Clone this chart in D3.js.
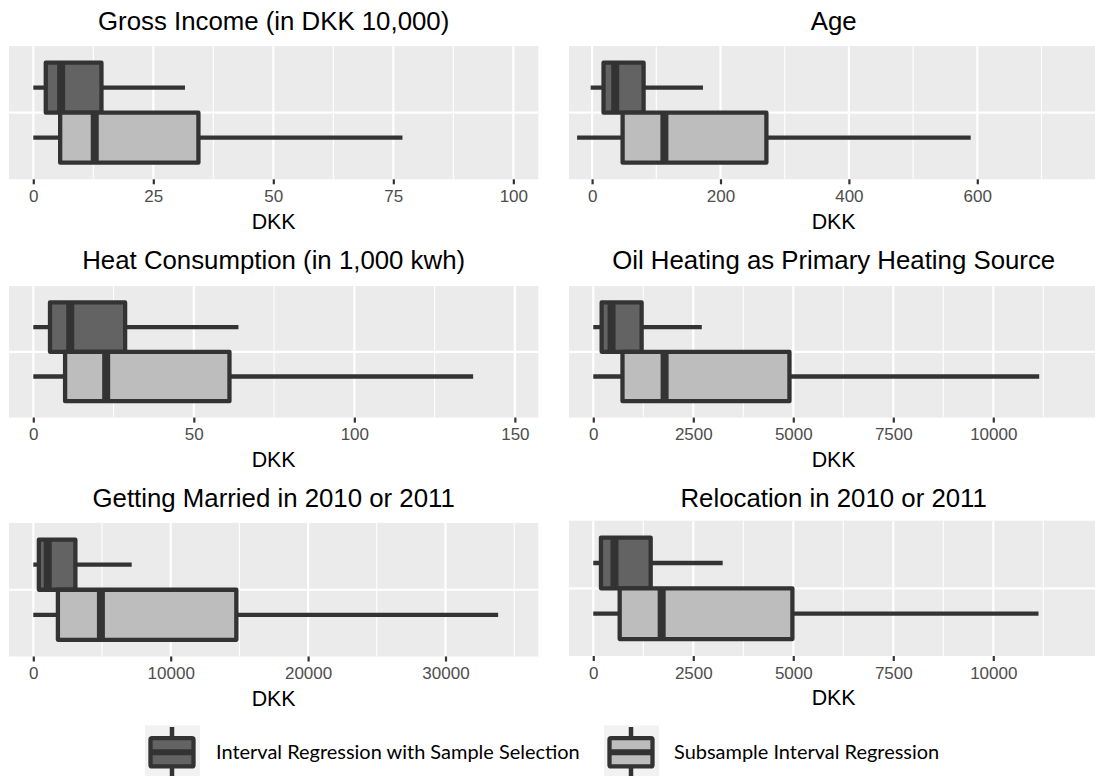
<!DOCTYPE html>
<html>
<head>
<meta charset="utf-8">
<script src="https://cdn.jsdelivr.net/npm/d3@7"></script>
<style>
  html, body { margin: 0; padding: 0; background: #ffffff; }
  svg { display: block; }
</style>
</head>
<body>
<svg id="chart" width="1095" height="776"></svg>
<script>
// ---------------- data ----------------
const panelTitles = [
  "Gross Income (in DKK 10,000)",
  "Age",
  "Heat Consumption (in 1,000 kwh)",
  "Oil Heating as Primary Heating Source",
  "Getting Married in 2010 or 2011",
  "Relocation in 2010 or 2011"
];
const axisTitle = "DKK";
const groups = ["Interval Regression with Sample Selection", "Subsample Interval Regression"];

// x axis tick labels per panel
const xTicks = [
  [0, 25, 50, 75, 100],
  [0, 200, 400, 600],
  [0, 50, 100, 150],
  [0, 2500, 5000, 7500, 10000],
  [0, 10000, 20000, 30000],
  [0, 2500, 5000, 7500, 10000]
];
// x axis limits per panel
const xLimits = [
  [-5.06, 105.2],
  [-36, 788.5],
  [-7.57, 157.3],
  [-607, 12625],
  [-1769, 36754],
  [-607, 12625]
];
// five-number summaries: [lower whisker, Q1, median, Q3, upper whisker]
const selectionStats = [
  [0, 2.6, 5.8, 14.2, 31.6],
  [-2.2, 17.8, 36, 80.2, 172.7],
  [0, 5.2, 11.5, 28.6, 63.9],
  [0, 209, 457, 1209, 2713],
  [0, 405, 1050, 3062, 7161],
  [0, 192, 530, 1435, 3235]
];
const subsampleStats = [
  [0, 5.6, 12.8, 34.4, 76.9],
  [-23.4, 47.5, 112.6, 271.5, 589.7],
  [0, 9.9, 22.7, 61.1, 137],
  [0, 730, 1783, 4904, 11148],
  [0, 1790, 4920, 14776, 33831],
  [0, 660, 1710, 4978, 11130]
];

// ---------------- styling / layout ----------------
const fills = ["#636363", "#bdbdbd"];
const outline = "#333333";
const panelBg = "#ebebeb";
const panelW = 529.3;
const panels = [
  { x0: 9,   y0: 46,    y1: 179.3, tb: 30 },
  { x0: 569, y0: 46,    y1: 179.3, tb: 30 },
  { x0: 9,   y0: 286,   y1: 417.6, tb: 269 },
  { x0: 569, y0: 286,   y1: 417.6, tb: 269 },
  { x0: 9,   y0: 523,   y1: 656.5, tb: 507 },
  { x0: 569, y0: 520.7, y1: 656,   tb: 507 }
];

const svg = d3.select("#chart");
const defs = svg.append("defs");

panels.forEach((p, i) => {
  const g = svg.append("g");
  const clipId = "clip" + i;
  defs.append("clipPath").attr("id", clipId)
    .append("rect").attr("x", p.x0).attr("y", p.y0)
    .attr("width", Math.min(panelW, 1095 - p.x0)).attr("height", p.y1 - p.y0);

  const x = d3.scaleLinear().domain(xLimits[i]).range([p.x0, p.x0 + panelW]);
  const y = d3.scaleLinear().domain([0.4, 1.6]).range([p.y0, p.y1]);

  // panel background
  g.append("rect").attr("x", p.x0).attr("y", p.y0)
    .attr("width", panelW).attr("height", p.y1 - p.y0).attr("fill", panelBg);

  // grid
  const major = xTicks[i];
  const step = major[1] - major[0];
  const minor = [];
  for (let k = 0; k < major.length - 1; k++) minor.push((major[k] + major[k + 1]) / 2);
  const lo = major[0] - step / 2, hi = major[major.length - 1] + step / 2;
  if (lo > xLimits[i][0]) minor.unshift(lo);
  if (hi < xLimits[i][1]) minor.push(hi);

  const grid = g.append("g").attr("clip-path", `url(#${clipId})`);
  grid.selectAll(".minor").data(minor).enter().append("line")
    .attr("x1", d => x(d)).attr("x2", d => x(d))
    .attr("y1", p.y0).attr("y2", p.y1)
    .attr("stroke", "#ffffff").attr("stroke-width", 1.1);
  grid.selectAll(".major").data(major).enter().append("line")
    .attr("x1", d => x(d)).attr("x2", d => x(d))
    .attr("y1", p.y0).attr("y2", p.y1)
    .attr("stroke", "#ffffff").attr("stroke-width", 2.2);
  grid.append("line")
    .attr("x1", p.x0).attr("x2", p.x0 + panelW)
    .attr("y1", y(1)).attr("y2", y(1))
    .attr("stroke", "#ffffff").attr("stroke-width", 2.2);

  // boxes
  const boxes = g.append("g").attr("clip-path", `url(#${clipId})`);
  const stats = [selectionStats[i], subsampleStats[i]];
  const centers = [0.775, 1.225];
  const half = 0.225;
  stats.forEach((s, k) => {
    const cy = y(centers[k]);
    const top = y(centers[k] - half), bot = y(centers[k] + half);
    const bg = boxes.append("g");
    bg.append("line").attr("x1", x(s[0])).attr("x2", x(s[1]))
      .attr("y1", cy).attr("y2", cy).attr("stroke", outline).attr("stroke-width", 4.3);
    bg.append("line").attr("x1", x(s[3])).attr("x2", x(s[4]))
      .attr("y1", cy).attr("y2", cy).attr("stroke", outline).attr("stroke-width", 4.3);
    bg.append("rect").attr("x", x(s[1])).attr("y", top)
      .attr("width", x(s[3]) - x(s[1])).attr("height", bot - top)
      .attr("fill", fills[k]).attr("stroke", outline).attr("stroke-width", 4.3)
      .attr("stroke-linejoin", "round");
    bg.append("line").attr("x1", x(s[2])).attr("x2", x(s[2]))
      .attr("y1", top).attr("y2", bot).attr("stroke", outline).attr("stroke-width", 8);
  });

  // axis
  const axis = d3.axisBottom(x).tickValues(major).tickSize(5).tickPadding(5.8)
    .tickFormat(d3.format("d"));
  const ag = g.append("g").attr("transform", `translate(0,${p.y1})`).call(axis);
  ag.select(".domain").remove();
  ag.selectAll(".tick line").attr("stroke", outline).attr("stroke-width", 2.2);
  ag.selectAll(".tick text")
    .attr("fill", "#4d4d4d")
    .style("font-family", "'Liberation Sans', Arial, sans-serif")
    .style("font-size", "17px");

  // titles
  g.append("text").attr("x", p.x0 + panelW / 2).attr("y", p.tb)
    .attr("text-anchor", "middle").attr("fill", "#000")
    .style("font-family", "'Liberation Sans', Arial, sans-serif")
    .style("font-size", "25.8px").text(panelTitles[i]);
  g.append("text").attr("x", p.x0 + panelW / 2).attr("y", p.y1 + 49.4)
    .attr("text-anchor", "middle").attr("fill", "#000")
    .style("font-family", "'Liberation Sans', Arial, sans-serif")
    .style("font-size", "21.4px").text(axisTitle);
});

// ---------------- legend ----------------
const legendKeys = [
  { kx: 145, tx: 216 },
  { kx: 604, tx: 674 }
];
const lg = svg.append("g");
let legendSize = null;
groups.forEach((name, k) => {
  const L = legendKeys[k];
  const key = lg.append("g").attr("transform", `translate(${L.kx},0)`);
  key.append("rect").attr("x", 0).attr("y", 725.3).attr("width", 55).attr("height", 60)
    .attr("fill", "#f2f2f2");
  key.append("line").attr("x1", 27).attr("x2", 27).attr("y1", 727).attr("y2", 780)
    .attr("stroke", outline).attr("stroke-width", 4.5);
  key.append("rect").attr("x", 5.5).attr("y", 738.2).attr("width", 43).attr("height", 28.2)
    .attr("rx", 1.5)
    .attr("fill", fills[k]).attr("stroke", outline).attr("stroke-width", 4.3)
    .attr("stroke-linejoin", "round");
  key.append("line").attr("x1", 5.5).attr("x2", 48.5).attr("y1", 752.3).attr("y2", 752.3)
    .attr("stroke", outline).attr("stroke-width", 6);
  const t = lg.append("text").attr("x", L.tx).attr("y", 758.5)
    .attr("fill", "#000")
    .style("font-family", "Lato, 'Open Sans', sans-serif")
    .style("font-size", "17px").text(name);
  if (legendSize === null) {
    const w = t.node().getComputedTextLength();
    legendSize = 17 * 364 / w;
  }
  t.style("font-size", legendSize.toFixed(2) + "px");
});
</script>
</body>
</html>
